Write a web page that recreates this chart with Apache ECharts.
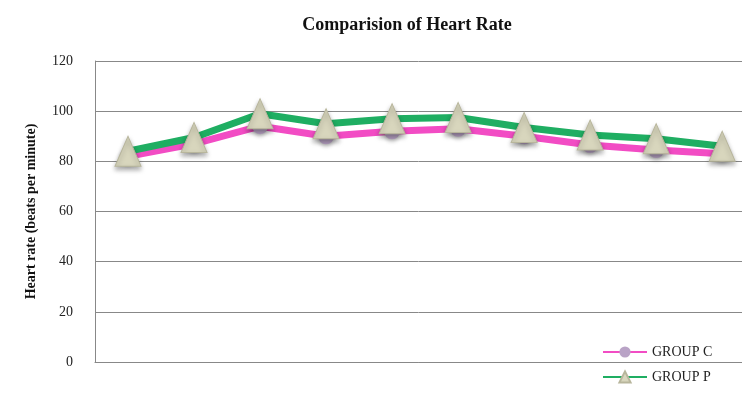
<!DOCTYPE html>
<html>
<head>
<meta charset="utf-8">
<script src="https://cdn.jsdelivr.net/npm/echarts@6/dist/echarts.min.js"></script>
<style>
  html, body { margin: 0; padding: 0; background: #fff; }
  #chart { width: 742px; height: 412px; }
</style>
</head>
<body>
<div id="chart"></div>
<script>
// 数据
const categories = ['1', '2', '3', '4', '5', '6', '7', '8', '9', '10'];
const groupC = [82, 87, 94, 90, 92, 93, 90, 86.5, 84.5, 83];
const groupP = [84, 89.5, 99, 95, 97, 97.5, 93.5, 90.5, 89, 86];
const yTicks = [0, 20, 40, 60, 80, 100, 120];

const serif = 'Liberation Serif';

// 类目按序号映射到数值轴，方便让右侧像原图一样被裁切
const toPairs = values => categories.map((c, i) => [i, values[i]]);

const chart = echarts.init(document.getElementById('chart'));
chart.setOption({
  animation: false,
  title: {
    text: 'Comparision of Heart Rate',
    left: 402,
    top: 11,
    textAlign: 'center',
    textStyle: { fontFamily: serif, fontSize: 18, fontWeight: 'bold', color: '#111' }
  },
  legend: {
    orient: 'vertical',
    left: 597,
    top: 340,
    itemGap: 11,
    itemWidth: 44,
    itemHeight: 14,
    textStyle: { fontFamily: serif, fontSize: 14, color: '#222' },
    data: ['GROUP C', 'GROUP P']
  },
  grid: { left: 95, right: 0, top: 61, height: 301 },
  xAxis: {
    type: 'value',
    min: -0.5,
    max: 9.3,
    axisLabel: { show: false },
    axisTick: { show: false },
    splitLine: { show: false },
    axisLine: { onZero: false, lineStyle: { color: '#888' } }
  },
  yAxis: {
    type: 'value',
    min: yTicks[0],
    max: yTicks[yTicks.length - 1],
    interval: 20,
    name: 'Heart rate (beats per minute)',
    nameLocation: 'middle',
    nameGap: 57,
    nameTextStyle: { fontFamily: serif, fontSize: 14, fontWeight: 'bold', color: '#111' },
    axisLine: { show: true, onZero: false, lineStyle: { color: '#888' } },
    axisTick: { show: false },
    axisLabel: { fontFamily: serif, fontSize: 14, color: '#222', margin: 22 },
    splitLine: { lineStyle: { color: '#888', width: 1 } }
  },
  series: [
    {
      name: 'GROUP C',
      type: 'line',
      data: toPairs(groupC),
      symbol: 'circle',
      symbolSize: 16,
      clip: false,
      lineStyle: { color: '#f24cc4', width: 7 },
      itemStyle: { color: '#b9a3c6', shadowColor: 'rgba(0,0,0,0.3)', shadowBlur: 4, shadowOffsetY: 2 },
      z: 2
    },
    {
      name: 'GROUP P',
      type: 'line',
      data: toPairs(groupP),
      symbol: 'triangle',
      symbolSize: [26, 30],
      clip: false,
      lineStyle: { color: '#1fae62', width: 7 },
      itemStyle: { color: '#d8d6bd', borderColor: '#b8b69c', borderWidth: 1, shadowColor: 'rgba(0,0,0,0.35)', shadowBlur: 5, shadowOffsetY: 3 },
      z: 3
    }
  ]
});
</script>
</body>
</html>
